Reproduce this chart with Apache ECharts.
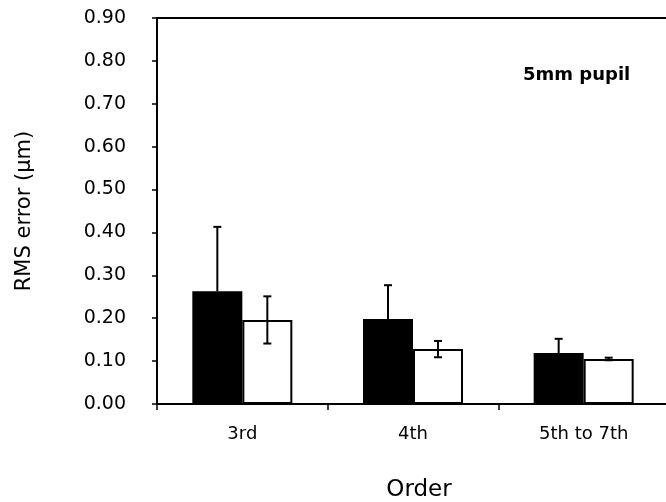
<!DOCTYPE html>
<html>
<head>
<meta charset="utf-8">
<script src="https://cdn.jsdelivr.net/npm/echarts@6/dist/echarts.min.js"></script>
<style>
html,body{margin:0;padding:0;background:#fff;}
#chart{width:666px;height:502px;}
</style>
</head>
<body>
<div id="chart"></div>
<script>
const categories = ['3rd', '4th', '5th to 7th'];
const blackMean = [0.263, 0.198, 0.119];
const blackErr = [0.150, 0.079, 0.033];
const whiteMean = [0.196, 0.128, 0.105];
const whiteErr = [0.055, 0.019, 0.003];
const yMin = 0, yMax = 0.9, yStep = 0.1;
const yTitle = 'RMS error (\u03bcm)';
const xTitle = 'Order';
const note = '5mm pupil';

const FONT = '"DejaVu Sans", sans-serif';
const chart = echarts.init(document.getElementById('chart'), null, {renderer: 'canvas'});

function errItem(offset, upperOnly) {
  return function (params, api) {
    const i = api.value(0), m = api.value(1), e = api.value(2);
    const top = api.coord([i, m + e]);
    const bot = api.coord([i, upperOnly ? m : m - e]);
    const x = top[0] + offset;
    const cap = 4;
    const style = {stroke: '#000', lineWidth: 2};
    const children = [
      {type: 'line', shape: {x1: x, y1: top[1], x2: x, y2: bot[1]}, style: style},
      {type: 'line', shape: {x1: x - cap, y1: top[1], x2: x + cap, y2: top[1]}, style: style}
    ];
    if (!upperOnly) {
      children.push({type: 'line', shape: {x1: x - cap, y1: bot[1], x2: x + cap, y2: bot[1]}, style: style});
    }
    return {type: 'group', children: children};
  };
}

const option = {
  animation: false,
  backgroundColor: '#fff',
  grid: {left: 157, top: 18, width: 512, height: 386, outerBoundsMode: 'none', containLabel: false},
  xAxis: [{
    type: 'category',
    data: categories,
    axisLine: {lineStyle: {color: '#000', width: 2}},
    axisTick: {show: true, length: 6, lineStyle: {color: '#000', width: 1.5}},
    axisLabel: {color: '#000', fontFamily: FONT, fontSize: 18, margin: 21},
    name: xTitle,
    nameLocation: 'middle',
    nameGap: 75,
    nameTextStyle: {color: '#000', fontFamily: FONT, fontSize: 23, padding: [0, 0, 0, 12]}
  }, {
    type: 'category',
    position: 'top',
    data: categories,
    axisLine: {show: true, lineStyle: {color: '#000', width: 2}},
    axisTick: {show: false},
    axisLabel: {show: false}
  }],
  yAxis: {
    type: 'value',
    min: yMin, max: yMax, interval: yStep,
    axisLine: {show: true, lineStyle: {color: '#000', width: 2}},
    axisTick: {show: true, length: 5, lineStyle: {color: '#000', width: 1.5}},
    splitLine: {show: false},
    axisLabel: {color: '#000', fontFamily: FONT, fontSize: 19, margin: 31, formatter: v => v.toFixed(2)},
    name: yTitle,
    nameLocation: 'middle',
    nameGap: 122,
    nameTextStyle: {color: '#000', fontFamily: FONT, fontSize: 21}
  },
  series: [
    {type: 'bar', data: blackMean, barWidth: 50, barGap: '0%',
     itemStyle: {color: '#000', borderColor: '#000', borderWidth: 1.5}},
    {type: 'bar', data: whiteMean, barWidth: 50, barGap: '0%',
     itemStyle: {color: '#fff', borderColor: '#000', borderWidth: 2}},
    {type: 'custom', renderItem: errItem(-25, true), z: 5,
     data: blackMean.map((m, i) => [i, m, blackErr[i]])},
    {type: 'custom', renderItem: errItem(25, false), z: 5,
     data: whiteMean.map((m, i) => [i, m, whiteErr[i]])}
  ],
  graphic: [
    {type: 'text', left: 523, top: 66,
     style: {text: note, fontFamily: FONT, fontSize: 18, fontWeight: 'bold', fill: '#000'}}
  ]
};
chart.setOption(option);
</script>
</body>
</html>
